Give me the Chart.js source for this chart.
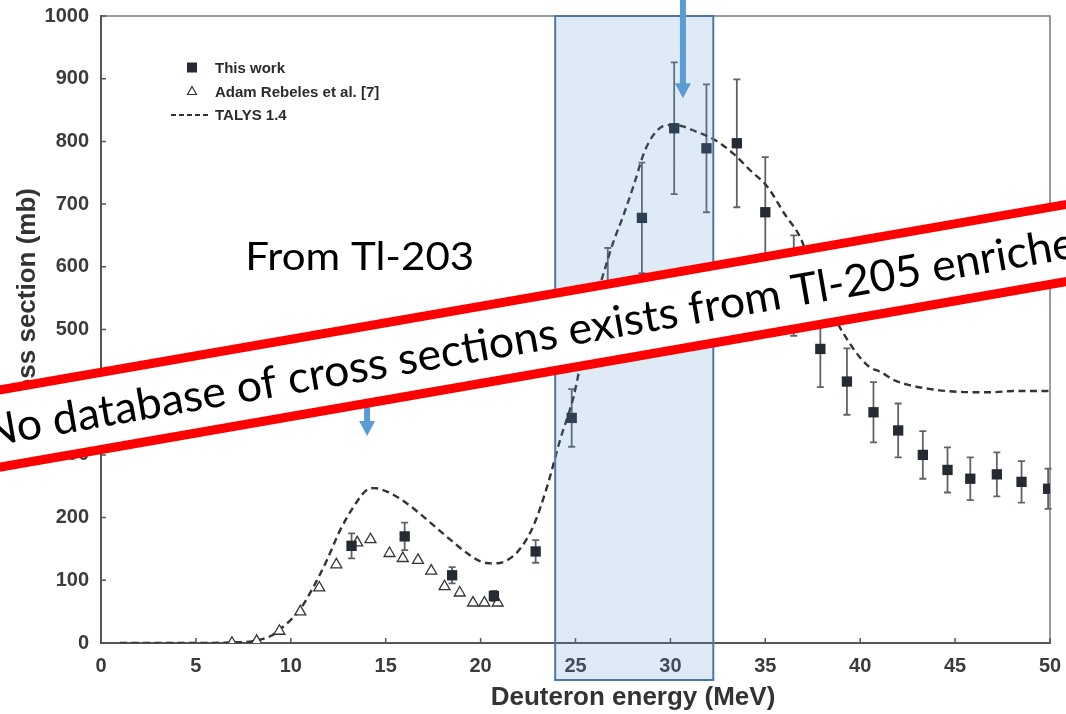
<!DOCTYPE html>
<html>
<head>
<meta charset="utf-8">
<script src="https://cdn.jsdelivr.net/npm/chart.js@4.4.1/dist/chart.umd.min.js"></script>
<style>
html,body{margin:0;padding:0;background:#fff;overflow:hidden}
#wrap{width:1066px;height:714px;position:relative}
</style>
</head>
<body>
<div id="wrap"><canvas id="c"></canvas></div>
<script>
// ---- data ----
const xTickLabels = ['0','5','10','15','20','25','30','35','40','45','50'];
const yTickLabels = ['0','100','200','300','400','500','600','700','800','900','1000'];

const thisWorkE   = [13.2, 16.0, 18.5, 20.7, 22.9, 24.8, 26.7, 28.5, 30.2, 31.9, 33.5, 35.0, 36.5, 37.9, 39.3, 40.7, 42.0, 43.3, 44.6, 45.8, 47.2, 48.5, 49.9];
const thisWorkXS  = [155, 170, 108, 75, 146, 359, 555, 678, 821, 789, 797, 687, 570, 469, 417, 368, 339, 300, 276, 262, 269, 257, 246];
const thisWorkErr = [20, 22, 13, 8, 18, 46, 75, 88, 105, 102, 102, 88, 80, 61, 53, 48, 43, 38, 36, 34, 35, 33, 32];

const rebelesE  = [6.9, 8.2, 9.4, 10.5, 11.5, 12.4, 13.5, 14.2, 15.2, 15.9, 16.7, 17.4, 18.1, 18.9, 19.6, 20.2, 20.9];
const rebelesXS = [0, 3, 19, 50, 88, 125, 160, 165, 143, 135, 132, 115, 90, 80, 64, 64, 64];

const talysE  = [1, 5, 7, 8, 9, 9.4, 10, 10.5, 11.2, 11.9, 12.6, 13.3, 14.0, 14.4, 15.1, 16.1, 17.2, 18.2, 19.3, 20.0, 20.7, 21.4, 22.1, 22.8, 23.5, 24.2, 24.9, 25.5, 26.0, 26.5, 27.0, 27.5, 28.1, 28.6, 29.1, 29.8, 30.5, 31.4, 32.3, 33.3, 34.2, 35.1, 36.0, 36.9, 37.5, 38.0, 38.8, 39.4, 40.0, 40.5, 41.1, 41.8, 42.5, 43.7, 44.5, 46.0, 47.0, 48.1, 50.0];
const talysXS = [0, 0, 1, 3, 12, 21, 37, 54, 90, 132, 180, 217, 244, 247, 241, 223, 196, 170, 143, 130, 127, 132, 151, 188, 249, 325, 393, 480, 540, 592, 640, 680, 733, 781, 810, 826, 825, 815, 803, 781, 754, 728, 685, 643, 590, 555, 510, 480, 455, 440, 432, 419, 412, 405, 402, 400, 400, 402, 402];

const seriesLabels = ['This work', 'Adam Rebeles et al. [7]', 'TALYS 1.4'];
const xTitle = 'Deuteron energy (MeV)';
const yTitle = 'Cross section (mb)';
const noteText = 'From Tl-203';
const bannerText = 'No database of cross sections exists from Tl-205 enriched';
const bannerVisible = 'No database of cross sections exists from Tl-205 enriche';
const highlightRange = [23.93, 32.26];

// ---- chart ----
const BOLD = '"Liberation Sans", Arial, sans-serif';

function makeChart(){
  const plugin = {
    id: 'decor',
    beforeDatasetsDraw(chart){
      const {ctx, chartArea:a, scales:{x, y}} = chart;
      ctx.save();
      ctx.strokeStyle = '#7a7a7a'; ctx.lineWidth = 1.5;
      ctx.beginPath();
      ctx.moveTo(a.left, a.top); ctx.lineTo(a.right, a.top); ctx.lineTo(a.right, a.bottom);
      ctx.stroke();
      ctx.strokeStyle = '#555'; ctx.lineWidth = 1.5;
      ctx.beginPath();
      xTickLabels.forEach(t => { const px = x.getPixelForValue(+t); ctx.moveTo(px, a.bottom); ctx.lineTo(px, a.bottom - 5); });
      yTickLabels.forEach(t => { const py = y.getPixelForValue(+t); ctx.moveTo(a.left, py); ctx.lineTo(a.left + 5, py); });
      ctx.stroke();
      ctx.strokeStyle = '#5f6368'; ctx.lineWidth = 1.8;
      ctx.beginPath();
      thisWorkE.forEach((e, i) => {
        const px = x.getPixelForValue(e);
        const t = y.getPixelForValue(thisWorkXS[i] + thisWorkErr[i]);
        const b = y.getPixelForValue(thisWorkXS[i] - thisWorkErr[i]);
        ctx.moveTo(px, t); ctx.lineTo(px, b);
        ctx.moveTo(px - 3.5, t); ctx.lineTo(px + 3.5, t);
        ctx.moveTo(px - 3.5, b); ctx.lineTo(px + 3.5, b);
      });
      ctx.stroke();
      ctx.restore();
    },
    afterDraw(chart){
      const {ctx, chartArea:a, scales:{x, y}} = chart;
      ctx.save();
      ctx.fillStyle = '#333';
      ctx.font = 'bold 26px ' + BOLD;
      ctx.textBaseline = 'alphabetic';
      ctx.textAlign = 'center';
      ctx.fillText(xTitle, 633, 705);
      ctx.save();
      ctx.translate(35, 188);
      ctx.rotate(-Math.PI/2);
      ctx.textAlign = 'right';
      ctx.fillText(yTitle, 0, 0);
      ctx.restore();

      const lx = 192, tx = 215, rows = [67.5, 91.5, 115];
      ctx.font = 'bold 15px ' + BOLD;
      ctx.textAlign = 'left'; ctx.textBaseline = 'middle';
      ctx.fillStyle = '#2b2b2b';
      seriesLabels.forEach((s, i) => ctx.fillText(s, tx, rows[i] + 1));
      ctx.fillStyle = '#262a33';
      ctx.fillRect(lx - 5, rows[0] - 5, 10, 10);
      ctx.strokeStyle = '#333'; ctx.lineWidth = 1.2;
      ctx.beginPath();
      ctx.moveTo(lx, rows[1] - 5); ctx.lineTo(lx + 4.5, rows[1] + 3); ctx.lineTo(lx - 4.5, rows[1] + 3); ctx.closePath();
      ctx.stroke();
      ctx.setLineDash([5, 3]); ctx.lineWidth = 2;
      ctx.beginPath(); ctx.moveTo(171, rows[2]); ctx.lineTo(211, rows[2]); ctx.stroke();
      ctx.setLineDash([]);

      const bl = x.getPixelForValue(highlightRange[0]);
      const br = x.getPixelForValue(highlightRange[1]);
      ctx.fillStyle = 'rgba(91,155,213,0.2)';
      ctx.fillRect(bl, a.top, br - bl, a.bottom + 37 - a.top);
      ctx.strokeStyle = '#4a79a8'; ctx.lineWidth = 2;
      ctx.strokeRect(bl, a.top, br - bl, a.bottom + 37 - a.top);

      function arrow(px, y0, y1){
        ctx.fillStyle = '#5b9bd5';
        ctx.fillRect(px - 3, y0, 6, y1 - y0 - 14);
        ctx.beginPath();
        ctx.moveTo(px - 8, y1 - 15); ctx.lineTo(px + 8, y1 - 15); ctx.lineTo(px, y1); ctx.closePath();
        ctx.fill();
      }
      arrow(x.getPixelForValue(30.66), 0, y.getPixelForValue(869));
      arrow(x.getPixelForValue(14.02), y.getPixelForValue(470), y.getPixelForValue(330));

      ctx.fillStyle = '#000';
      ctx.font = '38px Lato, "Open Sans", sans-serif';
      ctx.textAlign = 'left'; ctx.textBaseline = 'alphabetic';
      const nw = ctx.measureText(noteText).width;
      const nx = x.getPixelForValue(13.63), ny = y.getPixelForValue(595);
      ctx.save();
      ctx.translate(nx - 229/2, ny);
      ctx.scale(229 / nw, 1);
      ctx.fillText(noteText, 0, 0);
      ctx.restore();

      const th = Math.atan(-0.174);
      ctx.save();
      ctx.translate(0, 428.5);
      ctx.rotate(th);
      ctx.fillStyle = '#fff';
      ctx.fillRect(-100, -38, 1400, 76);
      ctx.strokeStyle = '#ff0000'; ctx.lineWidth = 9;
      ctx.beginPath();
      ctx.moveTo(-100, -38); ctx.lineTo(1300, -38);
      ctx.moveTo(-100, 38); ctx.lineTo(1300, 38);
      ctx.stroke();
      ctx.fillStyle = '#000';
      ctx.font = '44px Lato, "Open Sans", sans-serif';
      const bw = ctx.measureText(bannerVisible).width;
      ctx.translate(-17, 16);
      ctx.scale(1108 / bw, 1);
      ctx.fillText(bannerText, 0, 0);
      ctx.restore();

      ctx.restore();
    }
  };

  new Chart(document.getElementById('c'), {
    type: 'scatter',
    data: {
      datasets: [
        {
          label: seriesLabels[0],
          data: thisWorkE.map((e, i) => ({x: e, y: thisWorkXS[i]})),
          pointStyle: 'rect', pointRadius: 7.3, pointHoverRadius: 7.3,
          backgroundColor: '#262a33', borderColor: '#262a33', borderWidth: 0,
          order: 1
        },
        {
          label: seriesLabels[1],
          data: rebelesE.map((e, i) => ({x: e, y: rebelesXS[i]})),
          pointStyle: 'triangle', pointRadius: 6.3, pointHoverRadius: 6.3,
          backgroundColor: '#ffffff', borderColor: '#333', borderWidth: 1.3,
          order: 2
        },
        {
          label: seriesLabels[2],
          data: talysE.map((e, i) => ({x: e, y: talysXS[i]})),
          showLine: true, pointRadius: 0, pointHoverRadius: 0,
          borderColor: '#333', borderWidth: 2.4, borderDash: [7, 4.5],
          cubicInterpolationMode: 'monotone', fill: false,
          order: 3
        }
      ]
    },
    options: {
      responsive: true, maintainAspectRatio: false, animation: false,
      devicePixelRatio: 1,
      layout: {padding: {left: 0, right: 16, top: 16, bottom: 0}},
      plugins: {legend: {display: false}, tooltip: {enabled: false}},
      scales: {
        x: {
          type: 'linear', min: 0, max: 50,
          afterFit: s => { s.height = 71; s.paddingLeft = 0; s.paddingRight = 0; },
          afterBuildTicks: s => { s.ticks = xTickLabels.map(v => ({value: +v})); },
          ticks: {padding: 11, color: '#3b3b3b', font: {family: BOLD, size: 20, weight: 'bold'}, callback: v => String(v)},
          grid: {display: true, drawOnChartArea: false, drawTicks: false},
          border: {display: true, color: '#555', width: 2}
        },
        y: {
          type: 'linear', min: 0, max: 1000,
          afterFit: s => { s.width = 101; s.paddingTop = 0; s.paddingBottom = 0; },
          afterBuildTicks: s => { s.ticks = yTickLabels.map(v => ({value: +v})); },
          ticks: {padding: 12, color: '#3b3b3b', font: {family: BOLD, size: 20, weight: 'bold'}, callback: v => String(v)},
          grid: {display: true, drawOnChartArea: false, drawTicks: false},
          border: {display: true, color: '#555', width: 2}
        }
      }
    },
    plugins: [plugin]
  });
}

Promise.all([
  document.fonts.load('bold 20px "Liberation Sans"'),
  document.fonts.load('44px Lato')
]).catch(() => {}).then(makeChart);
</script>
</body>
</html>
